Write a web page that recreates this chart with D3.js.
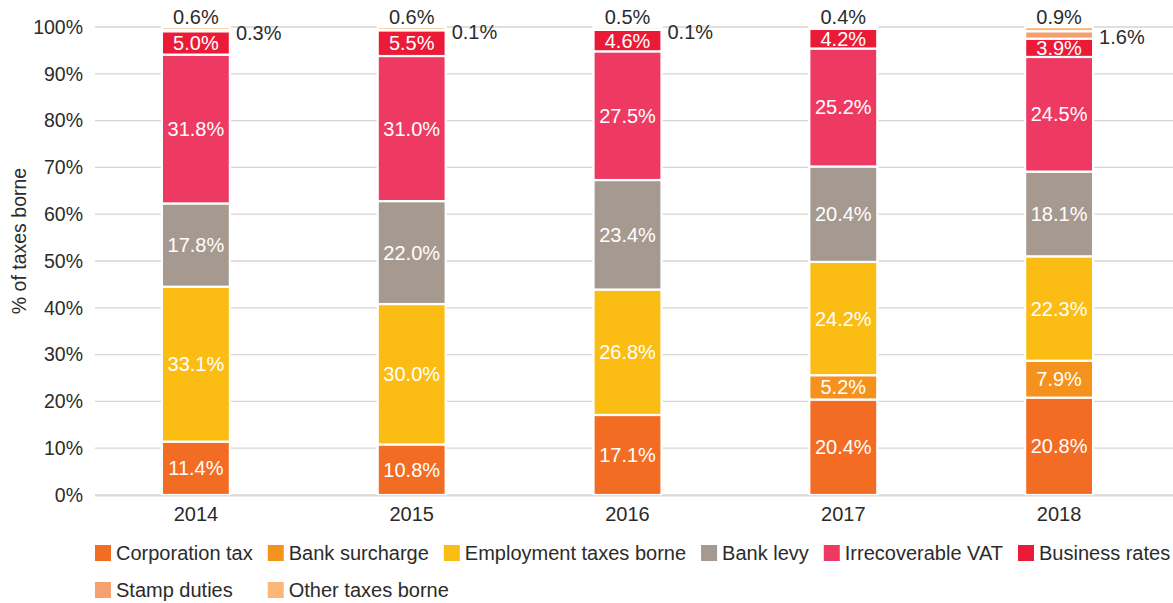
<!DOCTYPE html>
<html>
<head>
<meta charset="utf-8">
<script src="https://cdn.jsdelivr.net/npm/d3@7/dist/d3.min.js"></script>
<style>
  html, body { margin: 0; padding: 0; background: #fff; }
  svg { display: block; font-family: "Liberation Sans", Arial, Helvetica, sans-serif; }
</style>
</head>
<body>
<svg id="chart" width="1173" height="603"></svg>
<script>
// Share of total taxes borne, by tax type and year (%)
const years = ["2014", "2015", "2016", "2017", "2018"];
const seriesNames = ["Corporation tax", "Bank surcharge", "Employment taxes borne", "Bank levy",
                     "Irrecoverable VAT", "Business rates", "Stamp duties", "Other taxes borne"];
const corporationTax   = [11.4, 10.8, 17.1, 20.4, 20.8];
const bankSurcharge    = [0, 0, 0, 5.2, 7.9];
const employmentTaxes  = [33.1, 30.0, 26.8, 24.2, 22.3];
const bankLevy         = [17.8, 22.0, 23.4, 20.4, 18.1];
const irrecoverableVat = [31.8, 31.0, 27.5, 25.2, 24.5];
const businessRates    = [5.0, 5.5, 4.6, 4.2, 3.9];
const stampDuties      = [0.3, 0.1, 0.1, 0, 1.6];
const otherTaxes       = [0.6, 0.6, 0.5, 0.4, 0.9];
const yTicks = [0, 10, 20, 30, 40, 50, 60, 70, 80, 90, 100];

const colors = ["#f36c23", "#f5921e", "#fbbd13", "#a69a90", "#ee3a62", "#eb1a37", "#f5a070", "#fbb778"];

const seriesValues = [corporationTax, bankSurcharge, employmentTaxes, bankLevy,
                      irrecoverableVat, businessRates, stampDuties, otherTaxes];
const rows = years.map((y, i) => {
  const r = { year: y };
  seriesNames.forEach((s, k) => { r[s] = seriesValues[k][i]; });
  return r;
});

const svg = d3.select("#chart");
const fontSize = 20;
const textColor = "#2b2b2b";

const x = d3.scaleBand().domain(years).range([88, 1167]).paddingInner(0.685).paddingOuter(0.3425);
const y = d3.scaleLinear().domain([0, 100]).range([495, 27]);

// Gridlines
svg.append("g").selectAll("line").data(yTicks).join("line")
  .attr("x1", 95).attr("x2", 1173)
  .attr("y1", d => y(d)).attr("y2", d => y(d))
  .attr("stroke", "#d9d4cf").attr("stroke-width", 1.3);

// Y axis labels
const yAxis = d3.axisLeft(y).tickValues(yTicks).tickFormat(d => d + "%").tickSize(0).tickPadding(0);
const yg = svg.append("g").attr("transform", "translate(83,0)").call(yAxis);
yg.select(".domain").remove();
yg.selectAll("text").attr("font-size", 19.5).attr("fill", textColor)
  .attr("font-family", "Liberation Sans, Arial, sans-serif");

// Y axis title
svg.append("text")
  .attr("transform", `translate(26,${y(50) - 20}) rotate(-90)`)
  .attr("text-anchor", "middle")
  .attr("font-size", 19.5).attr("fill", textColor)
  .text("% of taxes borne");

// Stacked bars
const stacked = d3.stack().keys(seriesNames)(rows);
const layers = svg.append("g").selectAll("g").data(stacked).join("g")
  .attr("fill", (d, i) => colors[i]);
layers.selectAll("rect").data(d => d.filter(p => p[1] - p[0] > 0)).join("rect")
  .attr("x", d => x(d.data.year))
  .attr("width", x.bandwidth())
  .attr("y", d => y(d[1]))
  .attr("height", d => y(d[0]) - y(d[1]))
  .attr("stroke", "#fff").attr("stroke-width", 2.2);

// Baseline over the bar bottoms
svg.append("line").attr("x1", 95).attr("x2", 1173)
  .attr("y1", y(0) + 0.8).attr("y2", y(0) + 0.8)
  .attr("stroke", "#d9d4cf").attr("stroke-width", 1.3);

// Value labels
const labels = svg.append("g").attr("font-size", fontSize);
stacked.forEach((layer, k) => {
  layer.forEach(p => {
    const v = p.data[layer.key];
    if (!(v > 0)) return;
    const cx = x(p.data.year) + x.bandwidth() / 2;
    const txt = v.toFixed(1) + "%";
    if (layer.key === "Other taxes borne") {
      labels.append("text").attr("x", cx).attr("y", y(p[1]) - 3)
        .attr("text-anchor", "middle").attr("fill", textColor).text(txt);
    } else if (layer.key === "Stamp duties") {
      labels.append("text").attr("x", x(p.data.year) + x.bandwidth() + 6)
        .attr("y", (y(p[0]) + y(p[1])) / 2 + 2).attr("dy", "0.35em")
        .attr("text-anchor", "start").attr("fill", textColor).text(txt);
    } else {
      labels.append("text").attr("x", cx).attr("y", (y(p[0]) + y(p[1])) / 2).attr("dy", "0.35em")
        .attr("text-anchor", "middle").attr("fill", "#fff").text(txt);
    }
  });
});

// X axis labels
const xAxis = d3.axisBottom(x).tickSize(0).tickPadding(0);
const xg = svg.append("g").attr("transform", `translate(0,${y(0) + 12})`).call(xAxis);
xg.select(".domain").remove();
xg.selectAll("text").attr("font-size", fontSize).attr("fill", textColor)
  .attr("font-family", "Liberation Sans, Arial, sans-serif").attr("dy", "0.71em");

// Legend: first row flows left to right, second row reuses the first row's columns
const legend = svg.append("g").attr("font-size", fontSize).attr("fill", textColor);
const rowY = [553, 590];
const firstRow = 6;
const colX = [];
let cursor = 95;
seriesNames.forEach((name, i) => {
  const row = i < firstRow ? 0 : 1;
  const lx = row === 0 ? cursor : colX[i - firstRow];
  const g = legend.append("g").attr("transform", `translate(${lx},${rowY[row]})`);
  g.append("rect").attr("x", 0).attr("y", -8).attr("width", 16).attr("height", 16).attr("fill", colors[i]);
  const t = g.append("text").attr("x", 21).attr("y", 0).attr("dy", "0.35em").text(name);
  if (row === 0) {
    colX.push(lx);
    cursor = lx + 21 + t.node().getComputedTextLength() + 15;
  }
});
</script>
</body>
</html>
